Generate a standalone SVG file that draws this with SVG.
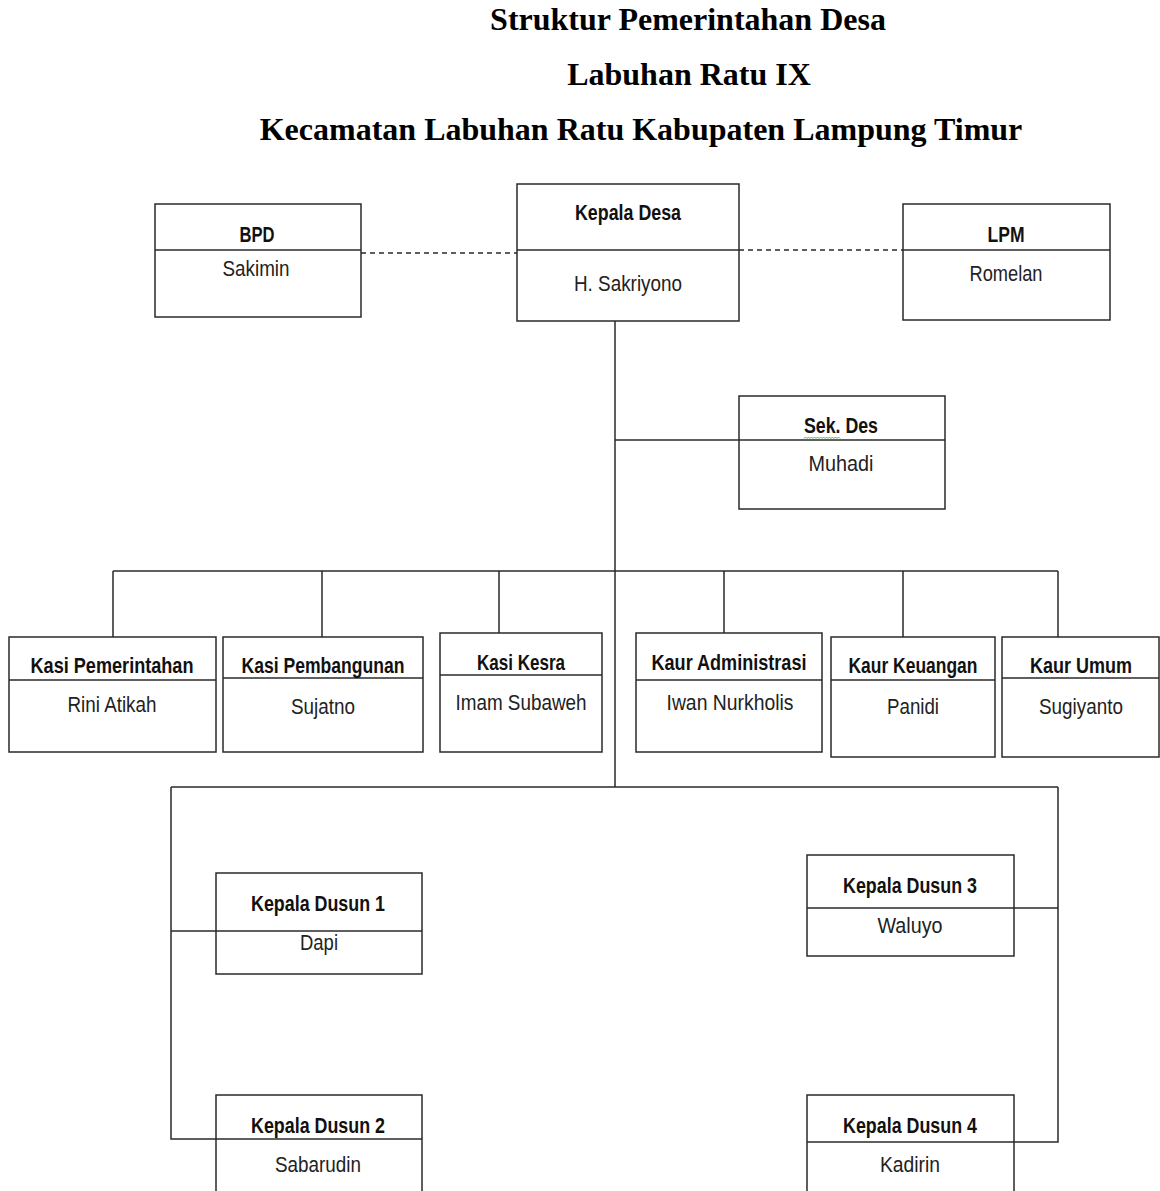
<svg xmlns="http://www.w3.org/2000/svg" width="1160" height="1191" viewBox="0 0 1160 1191">
<style>
.t{font-family:"Liberation Serif","Times New Roman",serif;font-weight:bold;font-size:32px;fill:#000;text-anchor:middle}
.box{fill:#fff;stroke:#2a2a2a;stroke-width:1.5}
.div{stroke:#2a2a2a;stroke-width:1.5;fill:none}
.h{font-family:"Liberation Sans",Arial,sans-serif;font-weight:bold;font-size:22px;fill:#111;text-anchor:middle}
.n{font-family:"Liberation Sans",Arial,sans-serif;font-size:22px;fill:#222;text-anchor:middle}
.c{stroke:#2a2a2a;stroke-width:1.5;fill:none}
.d{stroke:#2a2a2a;stroke-width:1.5;fill:none;stroke-dasharray:5,4}
</style>
<rect width="1160" height="1191" fill="#fff"/>
<g id="title">
<text class="t" x="688" y="30">Struktur Pemerintahan Desa</text>
<text class="t" x="689" y="85">Labuhan Ratu IX</text>
<text class="t" x="641" y="140">Kecamatan Labuhan Ratu Kabupaten Lampung Timur</text>
</g>
<g id="connectors">
<path class="d" d="M361 253H517"/>
<path class="d" d="M739 250H903"/>
<path class="c" d="M615 321V787"/>
<path class="c" d="M615 440H739"/>
<path class="c" d="M113 571H1058"/>
<path class="c" d="M113 571V637M322 571V637M499 571V633M724 571V633M903 571V637M1058 571V637"/>
<path class="c" d="M171 787H1058M171 787V1139H216M1058 787V1142H1014"/>
<path class="c" d="M171 931H216M1014 908H1058"/>
</g>
<g id="bpd">
<rect class="box" x="155" y="204" width="206" height="113"/>
<path class="div" d="M155 250H361"/>
<text class="h" x="257" y="242" textLength="35" lengthAdjust="spacingAndGlyphs">BPD</text>
<text class="n" x="256" y="276" textLength="67" lengthAdjust="spacingAndGlyphs">Sakimin</text>
</g>
<g id="kepala-desa">
<rect class="box" x="517" y="184" width="222" height="137"/>
<path class="div" d="M517 250H739"/>
<text class="h" x="628" y="220" textLength="106" lengthAdjust="spacingAndGlyphs">Kepala Desa</text>
<text class="n" x="628" y="291" textLength="108" lengthAdjust="spacingAndGlyphs">H. Sakriyono</text>
</g>
<g id="lpm">
<rect class="box" x="903" y="204" width="207" height="116"/>
<path class="div" d="M903 250H1110"/>
<text class="h" x="1006" y="242" textLength="37" lengthAdjust="spacingAndGlyphs">LPM</text>
<text class="n" x="1006" y="281" textLength="73" lengthAdjust="spacingAndGlyphs">Romelan</text>
</g>
<g id="sekdes">
<rect class="box" x="739" y="396" width="206" height="113"/>
<path class="div" d="M739 440H945"/>
<text class="h" x="841" y="433" textLength="74" lengthAdjust="spacingAndGlyphs">Sek. Des</text>
<path d="M804 438.5l1.5 -1.5 1.5 1.5 1.5 -1.5 1.5 1.5 1.5 -1.5 1.5 1.5 1.5 -1.5 1.5 1.5 1.5 -1.5 1.5 1.5 1.5 -1.5 1.5 1.5 1.5 -1.5 1.5 1.5 1.5 -1.5 1.5 1.5 1.5 -1.5 1.5 1.5 1.5 -1.5 1.5 1.5 1.5 -1.5 1.5 1.5 1.5 -1.5 1.5 1.5" fill="none" stroke="#3a9a3a" stroke-width="0.8"/>
<text class="n" x="841" y="471" textLength="65" lengthAdjust="spacingAndGlyphs">Muhadi</text>
</g>
<g id="kasi-pemerintahan">
<rect class="box" x="9" y="637" width="207" height="115"/>
<path class="div" d="M9 680H216"/>
<text class="h" x="112" y="673" textLength="163" lengthAdjust="spacingAndGlyphs">Kasi Pemerintahan</text>
<text class="n" x="112" y="712" textLength="89" lengthAdjust="spacingAndGlyphs">Rini Atikah</text>
</g>
<g id="kasi-pembangunan">
<rect class="box" x="223" y="637" width="200" height="115"/>
<path class="div" d="M223 678H423"/>
<text class="h" x="323" y="673" textLength="163" lengthAdjust="spacingAndGlyphs">Kasi Pembangunan</text>
<text class="n" x="323" y="714" textLength="64" lengthAdjust="spacingAndGlyphs">Sujatno</text>
</g>
<g id="kasi-kesra">
<rect class="box" x="440" y="633" width="162" height="119"/>
<path class="div" d="M440 675H602"/>
<text class="h" x="521" y="670" textLength="88" lengthAdjust="spacingAndGlyphs">Kasi Kesra</text>
<text class="n" x="521" y="710" textLength="131" lengthAdjust="spacingAndGlyphs">Imam Subaweh</text>
</g>
<g id="kaur-administrasi">
<rect class="box" x="636" y="633" width="186" height="119"/>
<path class="div" d="M636 680H822"/>
<text class="h" x="729" y="670" textLength="155" lengthAdjust="spacingAndGlyphs">Kaur Administrasi</text>
<text class="n" x="730" y="710" textLength="127" lengthAdjust="spacingAndGlyphs">Iwan Nurkholis</text>
</g>
<g id="kaur-keuangan">
<rect class="box" x="831" y="637" width="164" height="120"/>
<path class="div" d="M831 680H995"/>
<text class="h" x="913" y="673" textLength="129" lengthAdjust="spacingAndGlyphs">Kaur Keuangan</text>
<text class="n" x="913" y="714" textLength="52" lengthAdjust="spacingAndGlyphs">Panidi</text>
</g>
<g id="kaur-umum">
<rect class="box" x="1002" y="637" width="157" height="120"/>
<path class="div" d="M1002 678H1159"/>
<text class="h" x="1081" y="673" textLength="102" lengthAdjust="spacingAndGlyphs">Kaur Umum</text>
<text class="n" x="1081" y="714" textLength="84" lengthAdjust="spacingAndGlyphs">Sugiyanto</text>
</g>
<g id="kepala-dusun-1">
<rect class="box" x="216" y="873" width="206" height="101"/>
<path class="div" d="M216 931H422"/>
<text class="h" x="318" y="911" textLength="134" lengthAdjust="spacingAndGlyphs">Kepala Dusun 1</text>
<text class="n" x="319" y="950" textLength="38" lengthAdjust="spacingAndGlyphs">Dapi</text>
</g>
<g id="kepala-dusun-2">
<rect class="box" x="216" y="1095" width="206" height="110"/>
<path class="div" d="M216 1139H422"/>
<text class="h" x="318" y="1133" textLength="134" lengthAdjust="spacingAndGlyphs">Kepala Dusun 2</text>
<text class="n" x="318" y="1172" textLength="86" lengthAdjust="spacingAndGlyphs">Sabarudin</text>
</g>
<g id="kepala-dusun-3">
<rect class="box" x="807" y="855" width="207" height="101"/>
<path class="div" d="M807 908H1014"/>
<text class="h" x="910" y="893" textLength="134" lengthAdjust="spacingAndGlyphs">Kepala Dusun 3</text>
<text class="n" x="910" y="933" textLength="65" lengthAdjust="spacingAndGlyphs">Waluyo</text>
</g>
<g id="kepala-dusun-4">
<rect class="box" x="807" y="1095" width="207" height="110"/>
<path class="div" d="M807 1142H1014"/>
<text class="h" x="910" y="1133" textLength="134" lengthAdjust="spacingAndGlyphs">Kepala Dusun 4</text>
<text class="n" x="910" y="1172" textLength="60" lengthAdjust="spacingAndGlyphs">Kadirin</text>
</g>
</svg>
